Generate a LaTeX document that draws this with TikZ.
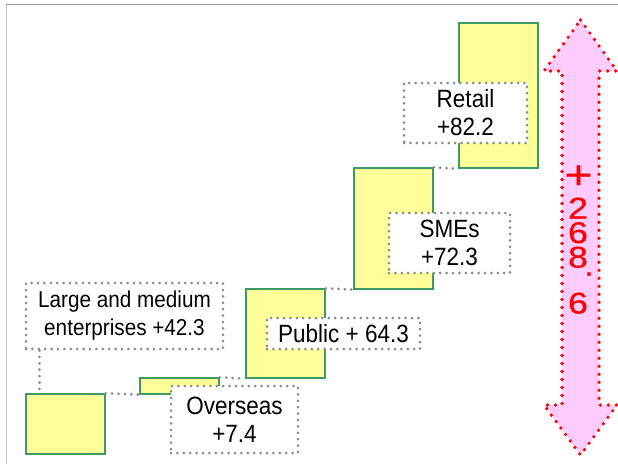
\documentclass[tikz,border=0pt]{standalone}
\usepackage{fontspec}
\setmainfont{Liberation Sans}[FakeStretch=0.9]
\newfontfamily\totalfont{Liberation Sans}[FakeStretch=1.2,FakeBold=0.6]

\definecolor{barfill}{HTML}{FFFF99}
\definecolor{bargreen}{HTML}{3D9A62}
\definecolor{dotgrey}{HTML}{8C8C8C}
\definecolor{arrowpink}{HTML}{FFCCFF}

\begin{document}
\begin{tikzpicture}[x=1pt,y=-1pt,
    bar/.style={draw=bargreen,line width=1.5pt,fill=barfill,inner sep=0pt},
    link/.style={draw=dotgrey,line width=3pt,line cap=round,dash pattern=on 0pt off 6.4pt},
    tag/.style={link,fill=white,align=center,inner sep=0pt,font=\fontsize{25}{28}\selectfont},
    digit/.style={text=red,inner sep=0pt,font=\totalfont\fontsize{30}{24.5}\selectfont}]
            \useasboundingbox (0,0) rectangle (618,464);
            \draw[gray!45,line width=1pt] (6,464) -- (6,4);
            \draw[gray!80,line width=1pt] (6,4) -- (618,4);

            \node[bar,minimum width=79pt,minimum height=60pt] (Large) at (65.5,424) {};
            \node[bar,minimum width=79pt,minimum height=16pt] (Overseas) at (179.5,386) {};
            \node[bar,minimum width=79pt,minimum height=89pt] (Public) at (285.5,333.5) {};
            \node[bar,minimum width=79pt,minimum height=121pt] (SMEs) at (393.5,228.5) {};
            \node[bar,minimum width=79pt,minimum height=145pt] (Retail) at (498.5,95.5) {};

            \node[tag,minimum width=197pt,minimum height=66pt,font=\fontsize{23}{28}\selectfont] (Large Label) at (124.5,316) {Large and medium\\enterprises +42.3};
            \node[tag,minimum width=127pt,minimum height=67pt] (Overseas Label) at (234.5,419.5) {Overseas\\+7.4};
            \node[tag,minimum width=153pt,minimum height=31pt] (Public Label) at (343.5,333.5) {Public + 64.3};
            \node[tag,minimum width=121pt,minimum height=60pt] (SMEs Label) at (449.5,243) {SMEs\\+72.3};
            \node[tag,minimum width=123pt,minimum height=60pt] (Retail Label) at (465.5,113) {Retail\\+82.2};

            \draw[link] (Large.north east) -- (Overseas.south west);
            \draw[link] (Overseas.north east) -- (Public.south west);
            \draw[link] (Public.north east) -- (SMEs.south west);
            \draw[link] (SMEs.north east) -- (Retail.south west);
            \draw[link] ([xshift=15pt]Large Label.south west) -- ([xshift=15pt]Large Label.south west |- Large.north);

            % total
            \draw[fill=arrowpink,draw=red,line width=3.6pt,line cap=round,dash pattern=on 0pt off 8pt]
                (580.5,20) -- (617,71) -- (599,71) -- (599,405) -- (617,405) -- (580.5,455)
                -- (544,405) -- (562,405) -- (562,71) -- (544,71) -- cycle;
            \node[digit,font=\totalfont\fontsize{40}{40}\selectfont] (Plus) at (578.5,177) {+};
            \node[digit,align=center,anchor=north] (Total) at (578,197.4)
                {2\\6\\8\\[-16.5pt]\hspace*{22pt}.\\[13.5pt]6};
        \end{tikzpicture}
\end{document}
